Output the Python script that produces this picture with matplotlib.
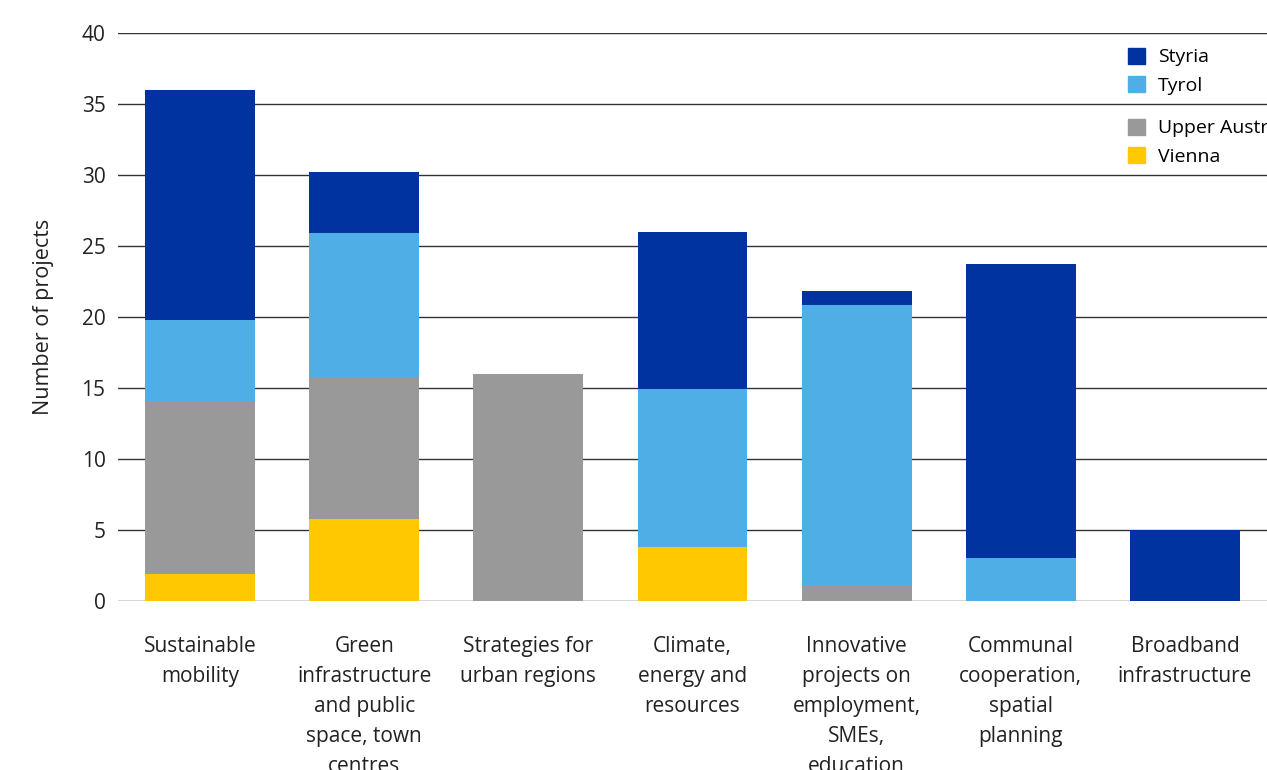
import matplotlib.pyplot as plt
from matplotlib.patches import Patch
import numpy as np

plt.rcParams['font.family'] = ['Open Sans', 'DejaVu Sans']

# Data
categories = ['Sustainable\nmobility',
              'Green\ninfrastructure\nand public\nspace, town\ncentres',
              'Strategies for\nurban regions',
              'Climate,\nenergy and\nresources',
              'Innovative\nprojects on\nemployment,\nSMEs,\neducation',
              'Communal\ncooperation,\nspatial\nplanning',
              'Broadband\ninfrastructure']
vienna = [1.9, 5.8, 0, 3.8, 0, 0, 0]
upper_austria = [12.1, 10.0, 16.0, 0, 1.05, 0, 0]
tyrol = [5.8, 10.1, 0, 11.1, 19.8, 3.0, 0]
styria = [16.2, 4.3, 0, 11.1, 1.0, 20.7, 5.0]

col_styria = '#0033A0'
col_tyrol = '#50AEE6'
col_upper = '#999999'
col_vienna = '#FFC800'

fig = plt.figure(figsize=(12.67, 7.70), dpi=100)
ax = fig.add_axes([118 / 1267, 169 / 770, 1 - 118 / 1267, 568 / 770])

x = np.arange(len(categories))
w = 0.67
bottom = np.zeros(len(categories))
for vals, col in [(vienna, col_vienna), (upper_austria, col_upper),
                  (tyrol, col_tyrol), (styria, col_styria)]:
    ax.bar(x, vals, w, bottom=bottom, color=col, zorder=2)
    bottom += np.array(vals)

ax.set_xlim(-0.5, 6.5)
ax.set_ylim(0, 40)
ax.set_yticks(np.arange(0, 41, 5))
ax.grid(axis='y', color='#333333', linewidth=1, zorder=0)
ax.set_axisbelow(True)
for s in ax.spines.values():
    s.set_visible(False)
ax.tick_params(axis='y', length=0, pad=9, labelsize=15, labelcolor='#222222')
ax.tick_params(axis='x', length=0, pad=25, labelsize=15, labelcolor='#222222')
ax.set_xticks(x)
ax.set_xticklabels(categories)
for lbl in ax.get_xticklabels():
    lbl.set_linespacing(1.57)
ax.set_ylabel('Number of projects', fontsize=15.5, color='#222222', labelpad=20)

# Legend (two groups)
leg_kw = dict(loc='upper left', frameon=False, fontsize=14, handlelength=0.85,
              handleheight=0.85, handletextpad=0.7, labelspacing=0.5,
              borderaxespad=0, borderpad=0)
fig.legend(handles=[Patch(color=col_styria, label='Styria'),
                    Patch(color=col_tyrol, label='Tyrol')],
           bbox_to_anchor=(1128 / 1267, 1 - 48 / 770), **leg_kw)
fig.legend(handles=[Patch(color=col_upper, label='Upper Austria'),
                    Patch(color=col_vienna, label='Vienna')],
           bbox_to_anchor=(1128 / 1267, 1 - 119 / 770), **leg_kw)

plt.savefig('out.png', dpi=100)
